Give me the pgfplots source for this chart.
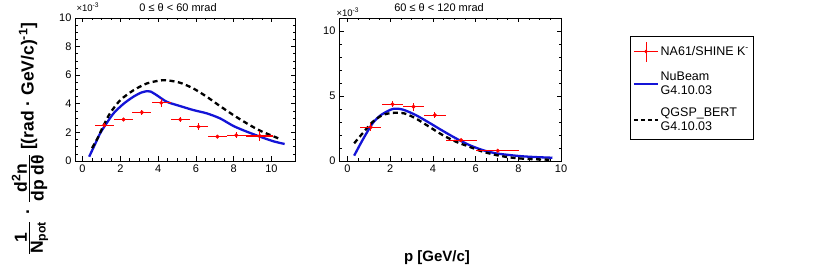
\documentclass[border=0pt]{standalone}
\usepackage{amsmath}
\usepackage{fontspec}
\setmainfont{Liberation Sans}
\usepackage{pgfplots}
\pgfplotsset{compat=1.18}
\definecolor{rblue}{RGB}{20,20,215}
\definecolor{rred}{RGB}{255,0,0}
\pgfplotsset{
  rootax/.style={
    scale only axis, anchor=south west,
    height=143pt, ymin=0,
    tick align=inside, tick pos=both,
    xticklabel pos=lower, yticklabel pos=left,
    major tick length=4.5pt, minor tick length=2.5pt,
    every tick/.style={black, line width=0.6pt},
    axis line style={line width=0.8pt},
    ticklabel style={font=\fontsize{11}{11}\selectfont},
    /pgf/number format/assume math mode=true,
    minor x tick num=3,
    clip=false,
  },
  mcblue/.style={rblue, line width=2.3pt, smooth, tension=0.45, no marks},
  mcblack/.style={black, line width=2.3pt, dash pattern=on 5pt off 3.5pt, smooth, tension=0.45, no marks},
  datapts/.style={rred, only marks, mark=*, mark size=1.8pt, mark options={fill=rred, draw=rred},
    error bars/.cd, x dir=both, x explicit, y dir=both, y explicit,
    error mark=none, error bar style={line width=1.1pt, rred}, /pgfplots/.cd},
}
\begin{document}
\begin{tikzpicture}
\useasboundingbox (0pt,0pt) rectangle (830pt,278pt);

\begin{axis}[rootax, at={(75pt,117pt)}, width=220pt,
  xmin=-0.4, xmax=11.25, ymax=10,
  xtick={0,2,...,10}, ytick={0,2,...,10}, minor y tick num=3]
\addplot[mcblue] coordinates {(0.35,0.3) (0.6,1.0) (0.93,1.93) (1.2,2.5) (1.64,3.33) (2.17,4.0) (2.7,4.5) (3.1,4.78) (3.4,4.88) (3.6,4.86) (3.93,4.6) (4.46,4.14) (5.17,3.84) (5.87,3.56) (6.58,3.33) (7.28,2.98) (8.0,2.44) (8.7,2.05) (9.4,1.7) (10.1,1.38) (10.7,1.19)};
\addplot[mcblack] coordinates {(0.5,0.9) (0.8,1.6) (1.1,2.45) (1.46,3.35) (2.0,4.26) (2.7,4.95) (3.4,5.42) (4.1,5.63) (4.5,5.64) (5.17,5.47) (5.87,5.07) (6.58,4.49) (7.28,3.84) (8.0,3.2) (8.7,2.63) (9.4,2.12) (10.36,1.59)};
\addplot[datapts] coordinates {
 (1.15,2.5) +- (0.5,0.15)
 (2.17,2.9) +- (0.49,0.12)
 (3.14,3.4) +- (0.5,0.18)
 (4.17,4.07) +- (0.5,0.3)
 (5.17,2.9) +- (0.5,0.15)
 (6.14,2.4) +- (0.5,0.25)
 (7.14,1.7) +- (0.5,0.12)
 (8.14,1.8) +- (0.5,0.2)
 (9.38,1.75) +- (0.72,0.35)
};
\end{axis}

\begin{axis}[rootax, at={(339pt,117pt)}, width=222pt,
  xmin=-0.4, xmax=10, ymax=11,
  xtick={0,2,...,10}, ytick={0,5,10}, minor y tick num=4,
  legend style={at={(1.3095,0.876)}, anchor=north west, draw=black, line width=0.8pt,
    font=\fontsize{12.5}{14}\selectfont, cells={anchor=west, align=left},
    row sep=8pt, inner xsep=3pt, inner ysep=5pt}]
\addlegendimage{legend image code/.code={
  \draw[rred,line width=0.8pt] (0pt,0pt)--(24pt,0pt);
  \draw[rred,line width=0.8pt] (12pt,-10pt)--(12pt,10pt);
  \fill[rred] (12pt,0pt) circle (1.3pt);}}
\addlegendentry{NA61/SHINE K\textsuperscript{-}}
\addlegendimage{legend image code/.code={\draw[rblue,line width=1.6pt] (0pt,0pt)--(24pt,0pt);}}
\addlegendentry{NuBeam\\G4.10.03}
\addlegendimage{legend image code/.code={\draw[black,line width=1.6pt,dash pattern=on 4pt off 3pt] (0pt,0pt)--(24pt,0pt);}}
\addlegendentry{QGSP\_BERT\\G4.10.03}
\addplot[forget plot, mcblue] coordinates {(0.31,0.41) (0.7,1.6) (1.17,2.89) (1.56,3.53) (2.11,4.0) (2.58,3.96) (3.2,3.53) (3.83,2.94) (4.45,2.33) (5.08,1.74) (5.7,1.23) (6.33,0.84) (6.95,0.59) (7.58,0.46) (8.2,0.36) (8.83,0.3) (9.6,0.25)};
\addplot[forget plot, mcblack] coordinates {(0.31,1.36) (0.7,2.12) (1.17,3.0) (1.64,3.53) (2.11,3.7) (2.66,3.66) (3.2,3.27) (3.83,2.63) (4.45,2.0) (5.08,1.48) (5.7,1.1) (6.33,0.72) (6.95,0.46) (7.58,0.28) (8.2,0.18) (8.83,0.13) (9.45,0.1)};
\addplot[forget plot, datapts] coordinates {
 (1.09,2.6) +- (0.49,0.3)
 (2.11,4.37) +- (0.49,0.25)
 (3.09,4.17) +- (0.5,0.3)
 (4.09,3.53) +- (0.5,0.25)
 (5.32,1.61) +- (0.73,0.1)
 (7.04,0.79) +- (1.0,0.1)
};
\end{axis}

% titles and exponents
\node[font=\fontsize{11}{11}\selectfont] at (178pt,270.5pt) {0 ≤ θ < 60 mrad};
\node[font=\fontsize{11}{11}\selectfont] at (439pt,270.5pt) {60 ≤ θ < 120 mrad};
\node[font=\fontsize{9.5}{9.5}\selectfont, anchor=west] at (73pt,271pt) {×10\textsuperscript{-3}};
\node[font=\fontsize{9.5}{9.5}\selectfont, anchor=west] at (333pt,266pt) {×10\textsuperscript{-3}};

% axis labels
\node[font=\bfseries\fontsize{15}{15}\selectfont] at (437pt,20pt) {p [GeV/c]};
\node[rotate=90, font=\bfseries\fontsize{17.5}{17.5}\selectfont] at (30pt,139pt)
  {$\genfrac{}{}{1.1pt}{}{\mbox{1}}{\mbox{N\textsubscript{pot}}}$\hspace{6pt}·\hspace{6pt}$\genfrac{}{}{1.1pt}{}{\mbox{d\textsuperscript{2}n}}{\mbox{dp dθ}}$\hspace{4pt}[(rad · GeV/c)\textsuperscript{-1}]};
\end{tikzpicture}
\end{document}
